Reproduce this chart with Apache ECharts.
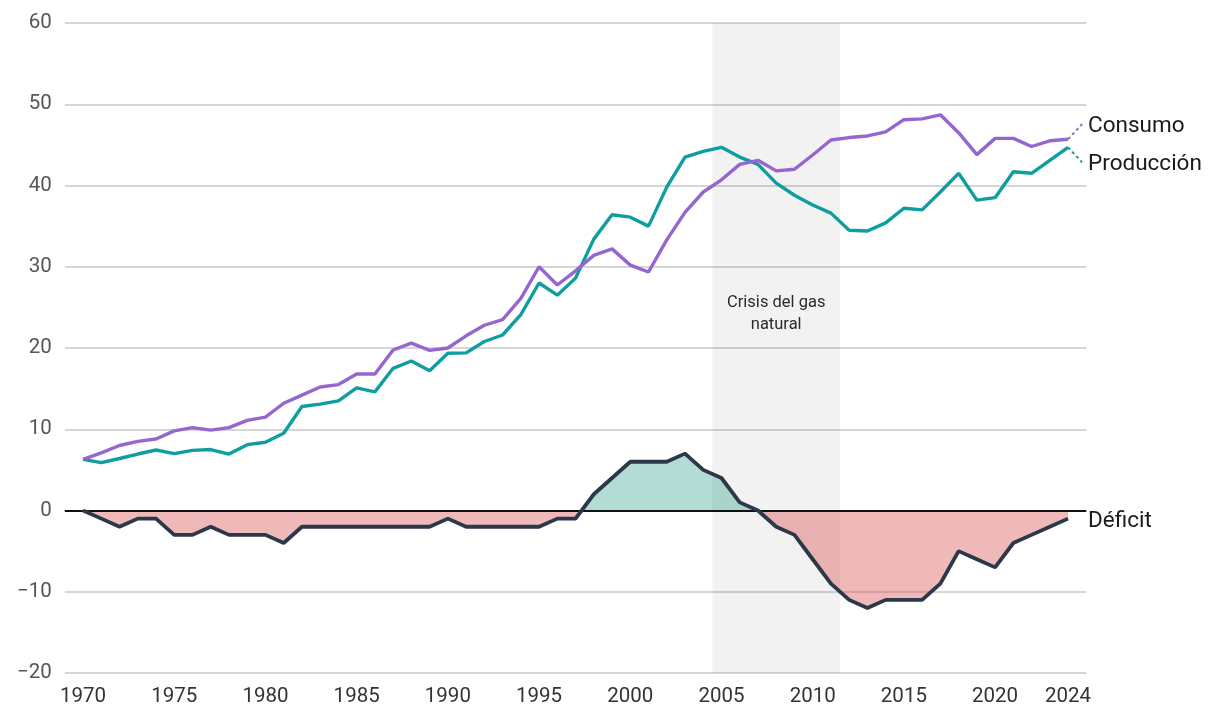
<!DOCTYPE html>
<html>
<head>
<meta charset="utf-8">
<script src="https://cdn.jsdelivr.net/npm/echarts@6/dist/echarts.min.js"></script>
<style>
html,body{margin:0;padding:0;background:#fff;}
#chart{width:1220px;height:724px;}
</style>
</head>
<body>
<div id="chart"></div>
<script>
const years = [];
for (let y = 1970; y <= 2024; y++) years.push(y);

const consumo = [6.3,7.1,8.0,8.5,8.8,9.8,10.2,9.9,10.2,11.1,
  11.5,13.2,14.2,15.2,15.5,16.8,16.8,19.75,20.6,19.7,
  20.0,21.5,22.8,23.5,26.1,30.0,27.75,29.5,31.4,32.2,
  30.2,29.35,33.3,36.7,39.2,40.7,42.6,43.1,41.8,42.0,
  43.75,45.6,45.9,46.1,46.6,48.1,48.2,48.7,46.5,43.8,
  45.8,45.8,44.8,45.5,45.7];

const produccion = [6.3,5.9,6.4,6.95,7.45,7.0,7.4,7.5,6.95,8.1,
  8.4,9.5,12.8,13.1,13.5,15.1,14.6,17.5,18.4,17.2,
  19.35,19.4,20.8,21.6,24.1,28.0,26.5,28.6,33.4,36.4,
  36.1,35.0,39.8,43.5,44.2,44.7,43.5,42.6,40.3,38.8,
  37.6,36.6,34.5,34.4,35.4,37.2,37.0,39.2,41.5,38.2,
  38.5,41.7,41.5,43.1,44.7];

const deficit = [0,-1,-2,-1,-1,-3,-3,-2,-3,-3,
  -3,-4,-2,-2,-2,-2,-2,-2,-2,-2,
  -1,-2,-2,-2,-2,-2,-1,-1,2,4,
  6,6,6,7,5,4,1,0,-2,-3,
  -6,-9,-11,-12,-11,-11,-11,-9,-5,-6,
  -7,-4,-3,-2,-1];

const xTickLabels = [1970,1975,1980,1985,1990,1995,2000,2005,2010,2015,2020,2024];
const yTicks = [-20,-10,0,10,20,30,40,50,60];
const crisis = {from: 2004.5, to: 2011.5, label: 'Crisis del gas\nnatural'};
const seriesNames = {consumo: 'Consumo', produccion: 'Producción', deficit: 'Déficit'};

// Build deficit points with zero crossings so fills split exactly at 0
const defPts = [];
for (let i = 0; i < years.length; i++) {
  if (i > 0) {
    const y0 = deficit[i-1], y1 = deficit[i];
    if ((y0 < 0 && y1 > 0) || (y0 > 0 && y1 < 0)) {
      const xc = years[i-1] + (0 - y0) / (y1 - y0) * (years[i] - years[i-1]);
      defPts.push([xc, 0]);
    }
  }
  defPts.push([years[i], deficit[i]]);
}
const posPts = defPts.map(p => [p[0], Math.max(p[1], 0)]);
const negPts = defPts.map(p => [p[0], Math.min(p[1], 0)]);

const chart = echarts.init(document.getElementById('chart'), null, {renderer: 'canvas'});
const FONT = 'Roboto';

const option = {
  animation: false,
  backgroundColor: '#ffffff',
  textStyle: {fontFamily: FONT},
  grid: {left: 64.8, right: 133.7, top: 23, bottom: 51, containLabel: false},
  xAxis: {
    type: 'value', min: 1969, max: 2025, interval: 1,
    axisLine: {show: false}, axisTick: {show: false}, splitLine: {show: false},
    axisLabel: {
      fontFamily: FONT, fontSize: 20.5, color: '#333333', margin: 13,
      showMinLabel: true, showMaxLabel: true,
      formatter: v => xTickLabels.indexOf(Math.round(v)) >= 0 && Math.abs(v - Math.round(v)) < 1e-6 ? String(Math.round(v)) : ''
    }
  },
  yAxis: {
    type: 'value', min: yTicks[0], max: yTicks[yTicks.length-1], interval: 10,
    axisLine: {show: false}, axisTick: {show: false},
    splitLine: {show: true, lineStyle: {color: '#d6d6d6', width: 2}},
    axisLabel: {
      fontFamily: FONT, fontSize: 20.5, color: '#555555', margin: 13,
      formatter: v => String(v).replace('-', '\u2212')
    }
  },
  series: [
    {
      name: 'crisisBand', type: 'line', data: [], silent: true,
      markArea: {
        silent: true,
        itemStyle: {color: 'rgba(0,0,0,0.052)'},
        label: {show: true, position: 'inside', offset: [0, -34], formatter: crisis.label,
          fontFamily: FONT, fontSize: 16.5, color: '#2a2a2a', lineHeight: 22},
        data: [[{xAxis: crisis.from, yAxis: yTicks[yTicks.length-1]}, {xAxis: crisis.to, yAxis: yTicks[0]}]]
      }
    },
    {
      name: 'neg', type: 'line', data: negPts, symbol: 'none', silent: true,
      lineStyle: {width: 0, opacity: 0},
      areaStyle: {color: 'rgba(214,80,80,0.4)', opacity: 1, origin: 'auto'},
      z: 2
    },
    {
      name: 'pos', type: 'line', data: posPts, symbol: 'none', silent: true,
      lineStyle: {width: 0, opacity: 0},
      areaStyle: {color: 'rgba(20,150,125,0.33)', opacity: 1, origin: 'auto'},
      z: 2,
      markLine: {
        silent: true, symbol: 'none', label: {show: false},
        lineStyle: {color: '#111111', width: 2, type: 'solid'},
        data: [{yAxis: 0}]
      }
    },
    {
      name: seriesNames.produccion, type: 'line', symbol: 'none',
      data: years.map((y, i) => [y, produccion[i]]),
      lineStyle: {color: '#0f9ea0', width: 3.4}, itemStyle: {color: '#0f9ea0'}, z: 4
    },
    {
      name: seriesNames.consumo, type: 'line', symbol: 'none',
      data: years.map((y, i) => [y, consumo[i]]),
      lineStyle: {color: '#9565d0', width: 3.4}, itemStyle: {color: '#9565d0'}, z: 5
    },
    {
      name: seriesNames.deficit, type: 'line', symbol: 'none',
      data: years.map((y, i) => [y, deficit[i]]),
      lineStyle: {color: '#2b3849', width: 3.8}, itemStyle: {color: '#2b3849'}, z: 6
    }
  ]
};
chart.setOption(option);

// End labels with dashed leader lines, placed relative to each series' last point
const last = years.length - 1;
const pC = chart.convertToPixel({gridIndex: 0}, [years[last], consumo[last]]);
const pP = chart.convertToPixel({gridIndex: 0}, [years[last], produccion[last]]);
const pD = chart.convertToPixel({gridIndex: 0}, [years[last], deficit[last]]);
const labelX = pC[0] + 20;
const txt = (x, y, s) => ({type: 'text', x: x, y: y, z: 10,
  style: {text: s, fontFamily: FONT, fontSize: 22.5, fill: '#1a1a1a', align: 'left', verticalAlign: 'middle'}});
chart.setOption({
  graphic: [
    {type: 'line', z: 10, shape: {x1: pC[0], y1: pC[1], x2: pC[0] + 14, y2: pC[1] - 15},
      style: {stroke: '#9565d0', lineWidth: 2, lineDash: [3, 3]}},
    {type: 'line', z: 10, shape: {x1: pP[0], y1: pP[1], x2: pP[0] + 14, y2: pP[1] + 15},
      style: {stroke: '#0f9ea0', lineWidth: 2, lineDash: [3, 3]}},
    txt(labelX, pC[1] - 13, seriesNames.consumo),
    txt(labelX, pP[1] + 17, seriesNames.produccion),
    txt(labelX, pD[1] + 3, seriesNames.deficit)
  ]
});
</script>
</body>
</html>
